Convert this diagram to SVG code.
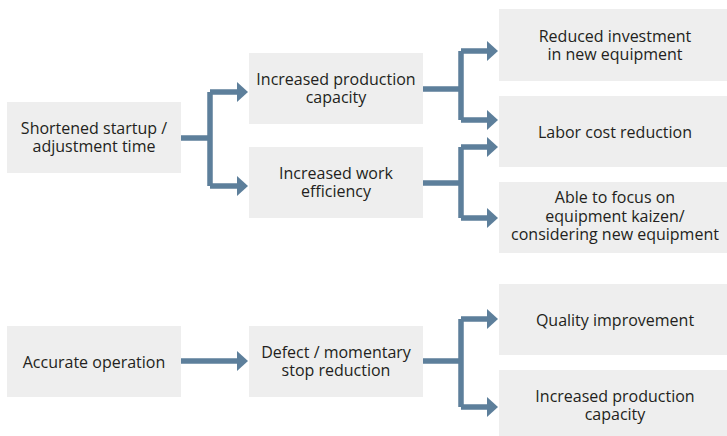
<svg xmlns="http://www.w3.org/2000/svg" width="727" height="436" viewBox="0 0 727 436">
<style>
.box{fill:#eeeeee}
.t{font-family:"Open Sans","Noto Sans","Liberation Sans",sans-serif;font-size:16px;fill:#231f20;text-anchor:middle}
.ln{fill:none;stroke:#5d7f9b;stroke-width:5.5;stroke-linejoin:miter;stroke-linecap:butt}
.ah{fill:#5d7f9b}
</style>
<rect width="727" height="436" fill="#ffffff"/>
<g id="connectors">
<path class="ln" d="M181,138 H210 M210,92 V186 M210,92 H238 M210,186 H238"/>
<polygon class="ah" points="237,82 248,92 237,102"/>
<polygon class="ah" points="237,176 248,186 237,196"/>
<path class="ln" d="M423,89 H461 M461,51 V120 M461,51 H488 M461,120 H488"/>
<polygon class="ah" points="487,41 498,51 487,61"/>
<polygon class="ah" points="487,110 498,120 487,130"/>
<path class="ln" d="M423,183 H461 M461,147 V218 M461,147 H488 M461,218 H488"/>
<polygon class="ah" points="487,137 498,147 487,157"/>
<polygon class="ah" points="487,208 498,218 487,228"/>
<path class="ln" d="M181,361 H238"/>
<polygon class="ah" points="237,351 248,361 237,371"/>
<path class="ln" d="M423,361 H461 M461,319 V407 M461,319 H488 M461,407 H488"/>
<polygon class="ah" points="487,309 498,319 487,329"/>
<polygon class="ah" points="487,397 498,407 487,417"/>
</g>
<g id="n1"><rect class="box" x="7" y="102" width="174" height="71"/><text class="t" x="94" y="134">Shortened startup /<tspan x="94" dy="18">adjustment time</tspan></text></g>
<g id="n2"><rect class="box" x="249" y="53" width="174" height="71"/><text class="t" x="336" y="85">Increased production<tspan x="336" dy="18">capacity</tspan></text></g>
<g id="n3"><rect class="box" x="249" y="147" width="174" height="71"/><text class="t" x="336" y="179">Increased work<tspan x="336" dy="18">efficiency</tspan></text></g>
<g id="n4"><rect class="box" x="499" y="9" width="233" height="72"/><text class="t" x="615" y="41.5">Reduced investment<tspan x="615" dy="18">in new equipment</tspan></text></g>
<g id="n5"><rect class="box" x="499" y="96" width="233" height="71"/><text class="t" x="615" y="137.5">Labor cost reduction</text></g>
<g id="n6"><rect class="box" x="499" y="182" width="233" height="71"/><text class="t" x="615" y="203">Able to focus on<tspan x="615" dy="18.5">equipment kaizen/</tspan><tspan x="615" dy="18.5">considering new equipment</tspan></text></g>
<g id="n7"><rect class="box" x="7" y="326" width="174" height="71"/><text class="t" x="94" y="367.5">Accurate operation</text></g>
<g id="n8"><rect class="box" x="249" y="326" width="174" height="71"/><text class="t" x="336" y="358">Defect / momentary<tspan x="336" dy="18">stop reduction</tspan></text></g>
<g id="n9"><rect class="box" x="499" y="284" width="233" height="71"/><text class="t" x="615" y="325.5">Quality improvement</text></g>
<g id="n10"><rect class="box" x="499" y="370" width="233" height="71"/><text class="t" x="615" y="401.5">Increased production<tspan x="615" dy="18.5">capacity</tspan></text></g>
</svg>
